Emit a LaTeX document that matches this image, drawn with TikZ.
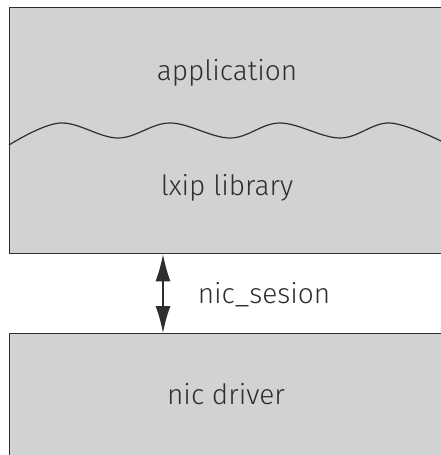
\documentclass[tikz,border=0pt]{standalone}
\usepackage{fontspec}
\setmainfont{Fira Sans Light}
\usetikzlibrary{arrows.meta}
\definecolor{layerfill}{HTML}{D1D2D4}
\definecolor{ink}{HTML}{2E2E30}
\tikzset{
  layer/.style={draw=ink, fill=layerfill, line width=1.3pt, inner sep=0pt, anchor=north west},
  caption/.style={text=ink, font=\fontsize{28}{32}\selectfont, inner sep=0pt, anchor=base},
  wave/.style={draw=ink, line width=1.2pt},
  link/.style={draw=ink, line width=1.3pt, {Latex[length=27pt,width=15pt]}-{Latex[length=27pt,width=15pt]}}
}
\begin{document}
\begin{tikzpicture}[x=1pt, y=-1pt]
  \useasboundingbox (0,0) rectangle (441,455);
  \fill[white] (0,0) rectangle (441,455);
  \clip (0,0) rectangle (441,455);
  % upper layer: application over the lxip library
  \node[layer, minimum width=440pt, minimum height=246pt] (upper) at (9,7) {};
  % lower layer: the nic driver
  \node[layer, minimum width=440pt, minimum height=130pt] (lower) at (9,333) {};
  % wavy boundary between application and library
  \draw[wave] plot[smooth, tension=0.6] coordinates {
    (9,145) (60,123) (118,138) (170,123) (230,138) (280,123) (340,138) (390,123) (445,143)};
  \node[caption] (app) at (227,80) {application};
  \node[caption] (lib) at (227,195) {lxip library};
  \node[caption] (drv) at (226,404) {nic driver};
  % session link between the two layers
  \coordinate (linktop) at (upper.south west -| 163,0);
  \coordinate (linkbot) at (lower.north west -| 163,0);
  \draw[link] (linktop) -- (linkbot);
  \node[caption] (sess) at (264,303) {nic\_sesion};
\end{tikzpicture}
\end{document}
